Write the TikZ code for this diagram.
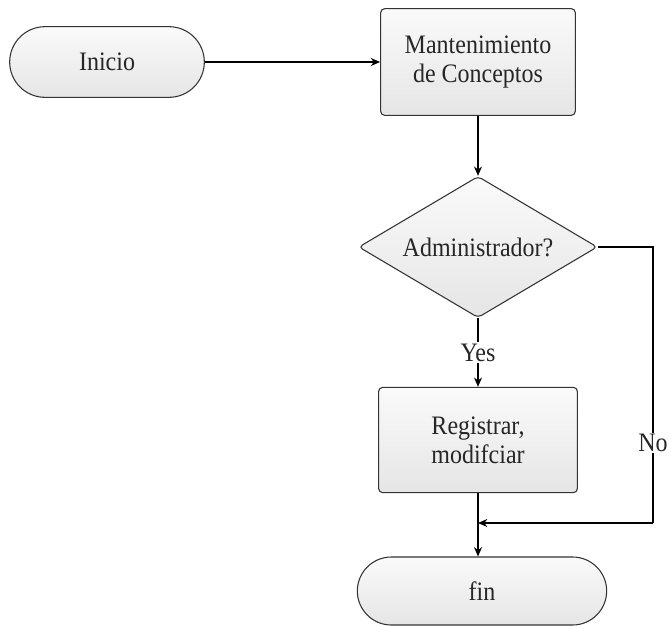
\documentclass[tikz,border=0pt]{standalone}
\usepackage{fontspec}
\setmainfont{Liberation Serif}[FakeStretch=0.9]
\usetikzlibrary{shapes.misc,shapes.geometric,arrows.meta}
\tikzset{
  shapebox/.style={draw=black!80, line width=0.8pt, top color=gray!4, bottom color=gray!20, text=black!85, font=\fontsize{20}{22}\selectfont, align=center, inner sep=0pt},
  termbox/.style={shapebox, rounded rectangle},
  procbox/.style={shapebox, rectangle, rounded corners=3pt},
  decbox/.style={shapebox, diamond, rounded corners=3pt},
  conn/.style={draw=black, line width=0.9pt},
  arr/.style={conn, -{Stealth[length=7pt,width=6pt]}},
  lbl/.style={fill=white, text=black!85, font=\fontsize{20}{22}\selectfont, inner sep=1pt}
}
\begin{document}
\begin{tikzpicture}[x=0.75pt,y=-0.75pt]
\useasboundingbox[fill=white] (0,0) rectangle (669,626);
\node[termbox, minimum width=146pt, minimum height=53pt] (ini) at (107,62) {Inicio};
\node[procbox, minimum width=146pt, minimum height=80pt] (mant) at (478,62) {Mantenimiento\\de Conceptos};
\node[decbox, minimum width=179pt, minimum height=106pt] (dia) at (478,247) {\makebox[0pt]{Administrador?}};
\node[procbox, minimum width=149pt, minimum height=79pt] (reg) at (478,440) {Registrar,\\modifciar};
\node[termbox, minimum width=187pt, minimum height=51pt] (fin) at (482,591) {fin};
\coordinate (m) at (478,523);
\coordinate (r1) at (653,247);
\coordinate (r2) at (653,523);
\draw[arr] (ini.east) -- (mant.west);
\draw[arr] (mant.south) -- (dia.north);
\draw[arr] (dia.south) -- node[lbl]{Yes} (reg.north);
\draw[conn] (dia.east) -- (r1) -- node[lbl, pos=0.71]{No} (r2);
\draw[arr] (r2) -- (m);
\draw[arr] (reg.south) -- (reg.south |- fin.north);
\end{tikzpicture}
\end{document}
